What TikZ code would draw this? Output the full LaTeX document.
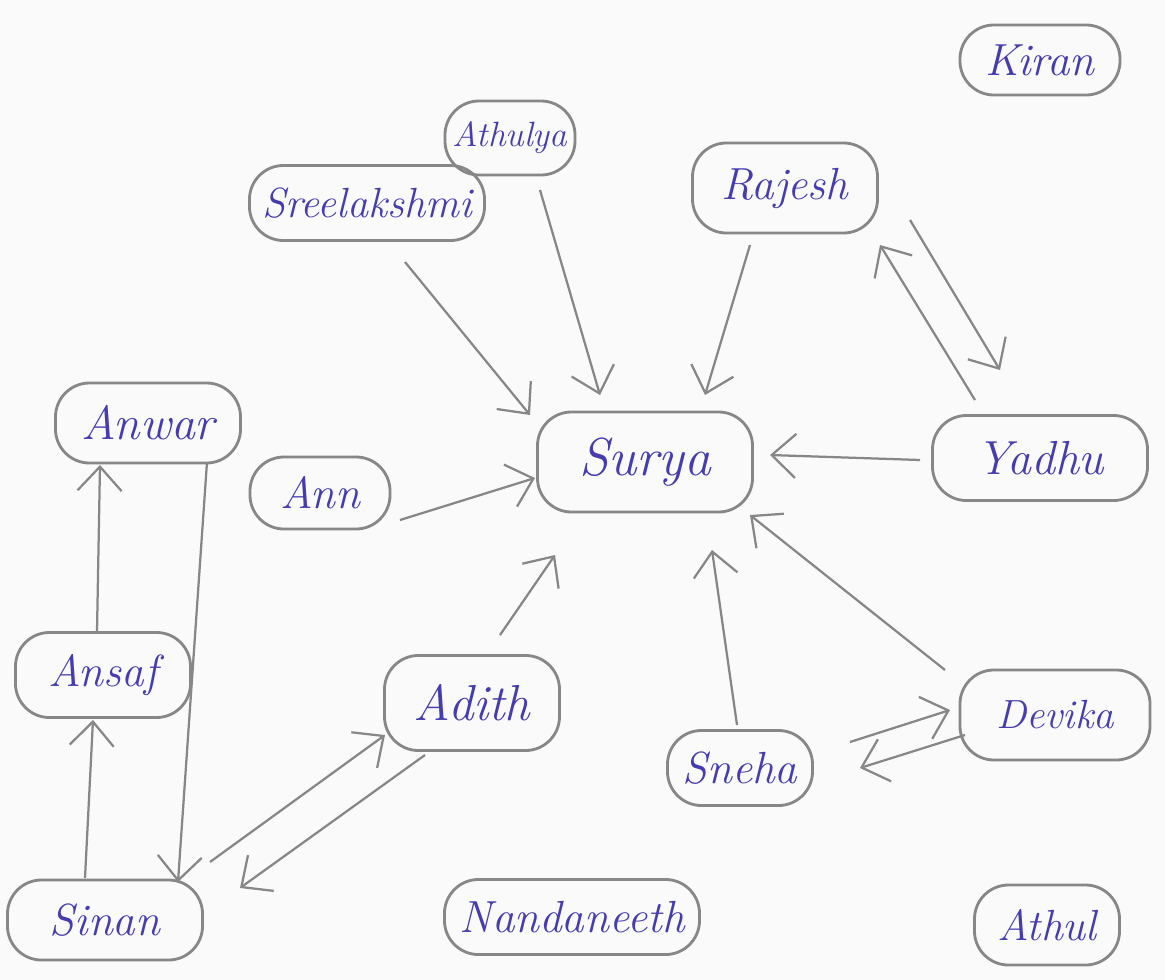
\documentclass[tikz,border=0pt]{standalone}
\usetikzlibrary{arrows.meta,calc}
\definecolor{pencil}{RGB}{135,135,135}
\definecolor{ink}{RGB}{70,60,175}
\definecolor{paper}{RGB}{250,250,250}
\tikzset{
  person/.style={draw=pencil, line width=2pt, rectangle, rounded corners=0.85cm,
    text=ink, font=\fontsize{32}{36}\selectfont\itshape, inner sep=0pt},
  fs/.style={font=\fontsize{#1}{#1}\selectfont\itshape},
  tie/.style={draw=pencil, line width=1.6pt,
    -{Straight Barb[length=6mm,width=11mm,line width=1.6pt]}},
}
\begin{document}
\begin{tikzpicture}[x=0.025cm,y=-0.025cm]
\fill[paper] (0,0) rectangle (1165,980);
\useasboundingbox (0,0) rectangle (1165,980);

\node[person, minimum width=4cm,     minimum height=1.75cm]  (kiran)   at (1040,60)  {Kiran};
\node[person, fs=25, minimum width=3.25cm, minimum height=1.85cm] (athulya) at (510,138) {Athulya};
\node[person, minimum width=4.625cm, minimum height=2.25cm]  (rajesh)  at (785,188)  {Rajesh};
\node[person, fs=30, minimum width=5.875cm, minimum height=1.875cm] (sree) at (367,203) {Sreelakshmi};
\node[person, fs=34, minimum width=4.625cm, minimum height=2cm] (anwar) at (148,423) {Anwar};
\node[person, fs=38, minimum width=5.375cm, minimum height=2.5cm] (surya) at (645,462) {Surya};
\node[person, fs=34, minimum width=5.375cm, minimum height=2.125cm] (yadhu) at (1040,458) {Yadhu};
\node[person, minimum width=3.5cm,   minimum height=1.8cm]   (ann)     at (320,493)  {Ann};
\node[person, minimum width=4.375cm, minimum height=2.125cm] (ansaf)   at (103,675)  {Ansaf};
\node[person, fs=36, minimum width=4.375cm, minimum height=2.375cm] (adith) at (472,703) {Adith};
\node[person, fs=29, minimum width=4.75cm,  minimum height=2.25cm] (devika) at (1055,715) {Devika};
\node[person, minimum width=3.625cm, minimum height=1.875cm] (sneha)   at (740,768)  {Sneha};
\node[person, minimum width=4.875cm, minimum height=2cm]     (sinan)   at (105,920)  {Sinan};
\node[person, minimum width=6.375cm, minimum height=1.875cm] (nanda)   at (572,917)  {Nandaneeth};
\node[person, fs=31, minimum width=3.625cm, minimum height=2cm] (athul) at (1047,925) {Athul};

% connectors
\draw[tie] ($(sree)+(38,59)$)     -- ($(surya)+(-115,-47)$);
\draw[tie] ($(athulya)+(30,52)$)  -- ($(surya)+(-45,-67)$);
\draw[tie] ($(rajesh)+(-35,57)$)  -- ($(surya)+(60,-67)$);
\draw[tie] ($(rajesh)+(125,32)$)  -- ($(yadhu)+(-40,-88)$);
\draw[tie] ($(yadhu)+(-65,-58)$)  -- ($(rajesh)+(95,57)$);
\draw[tie] ($(yadhu)+(-120,2)$)   -- ($(surya)+(125,-7)$);
\draw[tie] ($(ann)+(80,27)$)      -- ($(surya)+(-110,16)$);
\draw[tie] ($(adith)+(28,-68)$)   -- ($(surya)+(-90,93)$);
\draw[tie] ($(sneha)+(-3,-43)$)   -- ($(surya)+(67,88)$);
\draw[tie] ($(devika)+(-110,-45)$) -- ($(surya)+(105,53)$);
\draw[tie] ($(sneha)+(110,-26)$)  -- ($(devika)+(-105,-5)$);
\draw[tie] ($(devika)+(-90,20)$)  -- ($(sneha)+(120,0)$);
\draw[tie] ($(ansaf)+(-6,-43)$)   -- ($(anwar)+(-48,42)$);
\draw[tie] ($(sinan)+(-20,-42)$)  -- ($(ansaf)+(-10,45)$);
\draw[tie] ($(anwar)+(59,39)$)    -- ($(sinan)+(73,-38)$);
\draw[tie] ($(sinan)+(105,-58)$)  -- ($(adith)+(-87,32)$);
\draw[tie] ($(adith)+(-47,52)$)   -- ($(sinan)+(135,-32)$);
\end{tikzpicture}
\end{document}
